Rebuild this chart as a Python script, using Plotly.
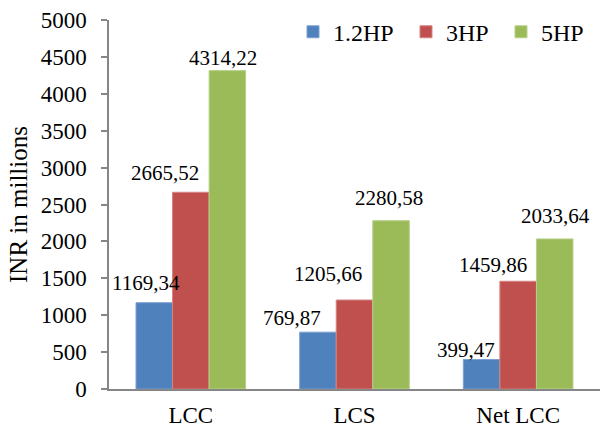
import plotly.graph_objects as go

# Life-cycle cost figures (INR millions) per pump rating
categories = ["LCC", "LCS", "Net LCC"]
series_names = ["1.2HP", "3HP", "5HP"]
hp_1_2 = [1169.34, 769.87, 399.47]
hp_3 = [2665.52, 1205.66, 1459.86]
hp_5 = [4314.22, 2280.58, 2033.64]
y_ticks = [0, 500, 1000, 1500, 2000, 2500, 3000, 3500, 4000, 4500, 5000]

series_values = [hp_1_2, hp_3, hp_5]
colors = ["#4F81BD", "#C0504D", "#9BBB59"]
edge_colors = ["#7FA1D0", "#D58482", "#B7D08A"]

# hand-placed label nudges (pixels) relative to the top centre of each bar
label_dx = [[-8, -26, -4], [-26, -27, -2], [-16, -25, 1]]  # [category][series]
label_gap = [[11, 10, 4], [5, 17, 14], [1, 7, 14]]

# left pixel of each legend entry
legend_px = [293, 406, 501]

FONT = "Liberation Serif, Times New Roman, serif"
W, H = 600, 430
M_L, M_R, M_T, M_B = 109, 0, 20, 41
plot_w = W - M_L - M_R
plot_h = H - M_T - M_B
bargap = 0.33
bar_w_px = plot_w / len(categories) * (1 - bargap) / len(series_names)

legend_keys = ["legend", "legend2", "legend3"]

fig = go.Figure()
for name, vals, col, ecol, lg in zip(series_names, series_values, colors, edge_colors, legend_keys):
    fig.add_trace(go.Bar(
        x=categories, y=vals, name=name, legend=lg, showlegend=True,
        marker=dict(color=col, line=dict(color=ecol, width=1)),
    ))

def fmt(v):
    return f"{v:.2f}".replace(".", ",")

annotations = []
for ci, cat in enumerate(categories):
    for si, vals in enumerate(series_values):
        offset = (si - 1) * bar_w_px
        annotations.append(dict(
            x=cat, y=vals[ci], xref="x", yref="y",
            text=fmt(vals[ci]), showarrow=False,
            xanchor="center", yanchor="bottom",
            xshift=offset + label_dx[ci][si],
            yshift=label_gap[ci][si] - 5,
            font=dict(family=FONT, size=21, color="#000000"),
        ))

# vertical axis title
annotations.append(dict(
    text="INR in millions", textangle=-90, showarrow=False,
    xref="paper", yref="paper",
    x=(19 - M_L) / plot_w, y=(H - M_B - 205) / plot_h,
    xanchor="center", yanchor="middle",
    font=dict(family=FONT, size=25, color="#000000"),
))

legend_style = dict(
    orientation="h", xanchor="left", yanchor="middle", y=0.967,
    font=dict(family=FONT, size=24, color="#000000"),
    bgcolor="rgba(0,0,0,0)", itemwidth=30,
)
legends = {}
for lg, px in zip(legend_keys, legend_px):
    legends[lg] = dict(legend_style, x=(px - M_L) / plot_w)

fig.update_layout(
    width=W, height=H,
    margin=dict(l=M_L, r=M_R, t=M_T, b=M_B),
    paper_bgcolor="white", plot_bgcolor="white",
    showlegend=True,
    barmode="group", bargap=bargap, bargroupgap=0,
    font=dict(family=FONT, size=22, color="#000000"),
    annotations=annotations,
    xaxis=dict(
        showline=True, linecolor="#868686", linewidth=1.5,
        ticks="", showgrid=False, tickfont=dict(family=FONT, size=23),
        ticklabelstandoff=5, automargin=False,
    ),
    yaxis=dict(
        range=[0, 5000], tickvals=y_ticks, ticktext=[str(t) for t in y_ticks],
        showline=True, linecolor="#868686", linewidth=1.5,
        ticks="outside", ticklen=6, tickcolor="#868686", tickwidth=1.5,
        showgrid=False, zeroline=False, automargin=False,
        tickfont=dict(family=FONT, size=23), ticklabelstandoff=10,
    ),
    **legends,
)

fig.write_html("out.html")
